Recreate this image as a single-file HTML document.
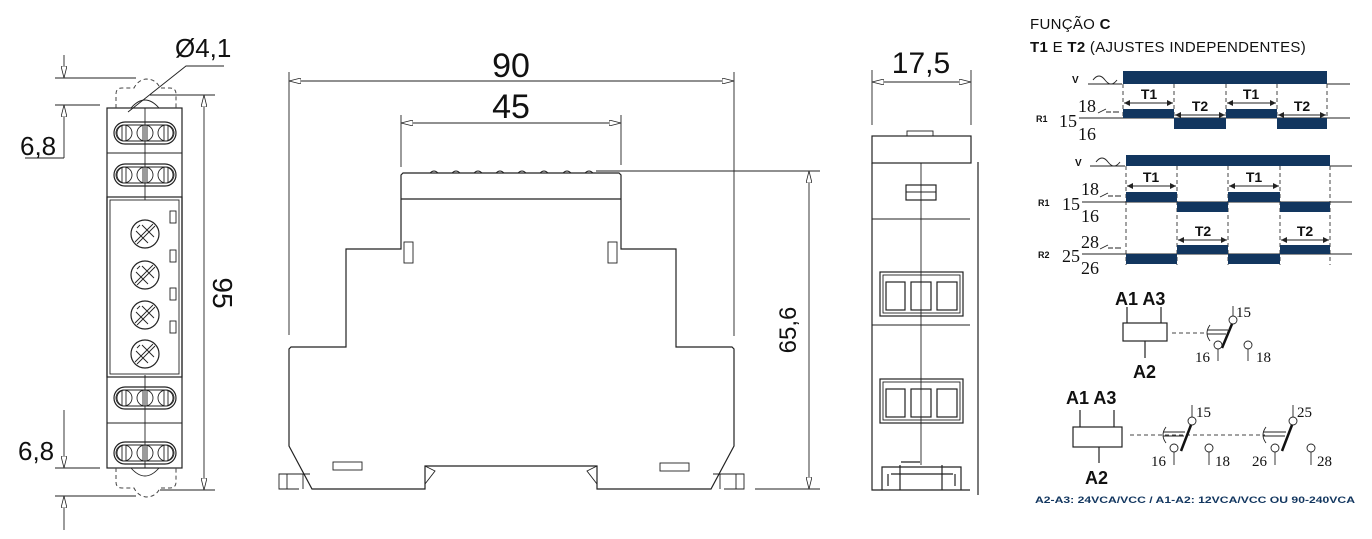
<!DOCTYPE html>
<html><head><meta charset="utf-8"><style>
html,body{margin:0;padding:0;background:#fff;}
svg{display:block}
.l{stroke:#222;stroke-width:1.2;fill:none}
.t{stroke:#222;stroke-width:0.9;fill:none}
.d{stroke:#444;stroke-width:1;fill:none;stroke-dasharray:4 3}
.n{fill:#12365f}
.dim{font-family:"Liberation Sans",sans-serif;fill:#111}
.s{font-family:"Liberation Serif",serif;fill:#111}
.b{font-family:"Liberation Sans",sans-serif;font-weight:bold;fill:#111}
</style></head><body>
<svg width="1372" height="539" viewBox="0 0 1372 539" xmlns="http://www.w3.org/2000/svg">
<defs>
<marker id="ar" viewBox="0 0 12 6" refX="12" refY="3" markerWidth="12" markerHeight="6" orient="auto-start-reverse" markerUnits="userSpaceOnUse"><path d="M0,0 L12,3 L0,6 z" fill="#fff" stroke="#222" stroke-width="0.8"/></marker>
<marker id="sa" viewBox="0 0 6 6" refX="6" refY="3" markerWidth="6" markerHeight="6" orient="auto-start-reverse" markerUnits="userSpaceOnUse"><path d="M0,0 L6,3 L0,6 z" fill="#222"/></marker>
<g id="pot"><circle r="14" class="l"/><path class="t" d="M-8,10 L10,-8 M-10,8 L8,-10 M-9,-3 L3,9 M-3,-9 L9,3 M-8,-6 l3,-3"/></g>
<g id="term"><rect x="-31" y="-11" width="62" height="22" rx="11" class="l"/><rect x="-28" y="-8" width="56" height="16" rx="8" class="t"/><circle cx="-21" r="8" class="t"/><circle r="8" class="t"/><circle cx="21" r="8" class="t"/><path class="t" d="M-23,-8v16M-19,-8v16M-2,-8v16M2,-8v16M19,-8v16M23,-8v16"/></g>
</defs>

<!-- LEFT VIEW -->
<rect x="107" y="108" width="75" height="360" class="l"/>
<line x1="145" y1="108" x2="145" y2="200" class="t"/>
<line x1="145" y1="375" x2="145" y2="468" class="t"/>
<line x1="107" y1="153" x2="182" y2="153" class="t"/>
<line x1="107" y1="423" x2="182" y2="423" class="t"/>
<rect x="107" y="197" width="75" height="180" class="l"/>
<rect x="110" y="200" width="69" height="174" class="t"/>
<use href="#term" x="145" y="133"/>
<use href="#term" x="145" y="175"/>
<use href="#term" x="145" y="398"/>
<use href="#term" x="145" y="453"/>
<use href="#pot" x="145" y="234"/>
<use href="#pot" x="145" y="275"/>
<use href="#pot" x="145" y="315"/>
<use href="#pot" x="145" y="354"/>
<rect x="170" y="211" width="6" height="12" class="t"/>
<rect x="170" y="250" width="6" height="12" class="t"/>
<rect x="170" y="288" width="6" height="12" class="t"/>
<rect x="170" y="321" width="6" height="12" class="t"/>
<path class="d" d="M116,108 v-14 q0,-6 6,-6 h12 q4,-8 12,-9 q10,0 14,9 h10 q6,0 6,6 v14"/>
<path class="d" d="M116,468 v14 q0,6 6,6 h12 q4,8 12,9 q10,0 14,-9 h10 q6,0 6,-6 v-14"/>
<path class="t" d="M131,108 q14,-16 28,0 M131,468 q14,16 28,0"/>
<line x1="55" y1="78" x2="136" y2="78" class="t"/>
<line x1="55" y1="105" x2="100" y2="105" class="t"/>
<line x1="64" y1="55" x2="64" y2="78" class="t" marker-end="url(#ar)"/>
<line x1="64" y1="158" x2="64" y2="105" class="t" marker-end="url(#ar)"/>
<line x1="25" y1="158" x2="64" y2="158" class="t"/>
<text x="20" y="155" class="dim" font-size="26">6,8</text>
<line x1="55" y1="468" x2="100" y2="468" class="t"/>
<line x1="55" y1="496" x2="136" y2="496" class="t"/>
<line x1="64" y1="410" x2="64" y2="468" class="t" marker-end="url(#ar)"/>
<line x1="64" y1="530" x2="64" y2="496" class="t" marker-end="url(#ar)"/>
<text x="18" y="460" class="dim" font-size="26">6,8</text>
<text x="175" y="57" class="dim" font-size="26">Ø4,1</text>
<path class="t" d="M224,66 H186 L128,112"/>
<line x1="150" y1="95" x2="215" y2="95" class="t"/>
<line x1="160" y1="490" x2="215" y2="490" class="t"/>
<line x1="204" y1="95" x2="204" y2="490" class="t" marker-start="url(#ar)" marker-end="url(#ar)"/>
<text transform="translate(213,293) rotate(90)" class="dim" font-size="28" text-anchor="middle">95</text>

<!-- MIDDLE VIEW -->
<line x1="289" y1="72" x2="289" y2="335" class="t"/>
<line x1="734" y1="72" x2="734" y2="336" class="t"/>
<line x1="289" y1="81" x2="734" y2="81" class="t" marker-start="url(#ar)" marker-end="url(#ar)"/>
<text x="511" y="77" class="dim" font-size="34" text-anchor="middle">90</text>
<line x1="401" y1="115" x2="401" y2="167" class="t"/>
<line x1="621" y1="115" x2="621" y2="165" class="t"/>
<line x1="401" y1="123" x2="621" y2="123" class="t" marker-start="url(#ar)" marker-end="url(#ar)"/>
<text x="511" y="118" class="dim" font-size="34" text-anchor="middle">45</text>
<path class="l" d="M401,175 L403,173 H619 L621,175 V249 H676 V347 H732 L734,349 V446 L711,489 H597 V466 H425 V489 H312 L289,446 V349 L291,347 H346 V249 H401 Z"/>
<line x1="401" y1="199" x2="621" y2="199" class="l"/>
<path class="t" d="M430,173 q4,-4 8,0 M452,173 q4,-4 8,0 M474,173 q4,-4 8,0 M496,173 q4,-4 8,0 M518,173 q4,-4 8,0 M540,173 q4,-4 8,0 M563,173 q4,-4 8,0 M585,173 q4,-4 8,0"/>
<rect x="404" y="242" width="9" height="21" class="t"/>
<rect x="608" y="242" width="9" height="21" class="t"/>
<rect x="333" y="462" width="29" height="8" class="t"/>
<rect x="660" y="463" width="29" height="8" class="t"/>
<path class="t" d="M425,466 l10,5 -10,13 M597,466 l-10,5 10,13"/>
<path class="t" d="M310,474 H279 V489 H299 M303,474 v15 M287,474 v15"/>
<path class="t" d="M713,474 H744 V489 H724 M720,474 v15 M736,474 v15"/>
<line x1="596" y1="171" x2="820" y2="171" class="t"/>
<line x1="755" y1="489" x2="820" y2="489" class="t"/>
<line x1="809" y1="171" x2="809" y2="489" class="t" marker-start="url(#ar)" marker-end="url(#ar)"/>
<text transform="translate(796,330) rotate(-90)" class="dim" font-size="24" text-anchor="middle">65,6</text>

<!-- RIGHT SIDE VIEW -->
<line x1="872" y1="70" x2="872" y2="125" class="t"/>
<line x1="971" y1="70" x2="971" y2="125" class="t"/>
<line x1="872" y1="82" x2="971" y2="82" class="t" marker-start="url(#ar)" marker-end="url(#ar)"/>
<text x="921" y="73" class="dim" font-size="30" text-anchor="middle">17,5</text>
<rect x="872" y="136" width="99" height="27" class="l"/>
<rect x="907" y="131" width="26" height="5" class="t"/>
<path class="l" d="M872,163 V490 H970 M978,162 V495"/>
<line x1="921" y1="163" x2="921" y2="465" class="t"/>
<rect x="906" y="185" width="30" height="15" class="l"/>
<line x1="906" y1="192" x2="936" y2="192" class="t"/>
<path class="t" d="M872,219 H970 M872,325 H970"/>
<rect x="880" y="272" width="83" height="44" class="l"/><rect x="883" y="275" width="77" height="38" class="t"/>
<rect x="886" y="282" width="19" height="28" class="l"/><rect x="911" y="282" width="20" height="28" class="l"/><rect x="937" y="282" width="20" height="28" class="l"/>
<rect x="880" y="379" width="83" height="44" class="l"/><rect x="883" y="382" width="77" height="38" class="t"/>
<rect x="886" y="389" width="19" height="28" class="l"/><rect x="911" y="389" width="20" height="28" class="l"/><rect x="937" y="389" width="20" height="28" class="l"/>
<path class="l" d="M882,490 V467 H961 V490 M900,465 V490 M942,465 V490 M891,474 H953 M888,474 v12 M955,474 v12 M901,462 H920"/>

<!-- TIMING -->
<text x="1030" y="29" class="dim" font-size="15" letter-spacing="0.3">FUNÇÃO <tspan font-weight="bold">C</tspan></text>
<text x="1030" y="52" class="dim" font-size="15" letter-spacing="0.3"><tspan font-weight="bold">T1</tspan> E <tspan font-weight="bold">T2</tspan> (AJUSTES INDEPENDENTES)</text>
<!-- diag 1 -->
<text x="1072" y="83" class="b" font-size="10">V</text>
<path class="t" d="M1088,84 H1122 M1093,80 q6,-8 12,0 q6,8 12,0 M1327,84 H1350"/>
<rect x="1123" y="71" width="204" height="13" class="n"/>
<path class="d" d="M1123,84 V118 M1174,84 V118 M1226,84 V118 M1277,84 V118 M1327,84 V118"/>
<g class="b" font-size="14" text-anchor="middle"><text x="1149" y="99">T1</text><text x="1251" y="99">T1</text><text x="1200" y="111">T2</text><text x="1302" y="111">T2</text></g>
<g class="t"><line x1="1124" y1="103" x2="1173" y2="103" marker-start="url(#sa)" marker-end="url(#sa)"/><line x1="1227" y1="103" x2="1276" y2="103" marker-start="url(#sa)" marker-end="url(#sa)"/><line x1="1175" y1="115" x2="1225" y2="115" marker-start="url(#sa)" marker-end="url(#sa)"/><line x1="1278" y1="115" x2="1326" y2="115" marker-start="url(#sa)" marker-end="url(#sa)"/></g>
<line x1="1079" y1="118" x2="1350" y2="118" class="t"/>
<rect x="1123" y="109" width="51" height="9" class="n"/><rect x="1226" y="109" width="51" height="9" class="n"/>
<rect x="1174" y="118" width="52" height="11" class="n"/><rect x="1277" y="118" width="50" height="11" class="n"/>
<text x="1036" y="122" class="b" font-size="9">R1</text>
<text x="1059" y="127" class="s" font-size="18">15</text>
<text x="1078" y="112" class="s" font-size="18">18</text>
<text x="1078" y="140" class="s" font-size="18">16</text>
<path class="t" d="M1098,113 l8,-4 M1106,112 h5 M1113,112 h6"/>
<!-- diag 2 -->
<text x="1075" y="166" class="b" font-size="10">V</text>
<path class="t" d="M1090,166 H1125 M1096,162 q6,-8 12,0 q6,8 12,0 M1330,166 H1352"/>
<rect x="1126" y="155" width="204" height="11" class="n"/>
<path class="d" d="M1126,166 V265 M1177,166 V265 M1228,166 V265 M1280,166 V265 M1330,166 V265"/>
<g class="b" font-size="14" text-anchor="middle"><text x="1151" y="182">T1</text><text x="1254" y="182">T1</text><text x="1203" y="236">T2</text><text x="1305" y="236">T2</text></g>
<g class="t"><line x1="1127" y1="186" x2="1176" y2="186" marker-start="url(#sa)" marker-end="url(#sa)"/><line x1="1229" y1="186" x2="1279" y2="186" marker-start="url(#sa)" marker-end="url(#sa)"/><line x1="1178" y1="240" x2="1227" y2="240" marker-start="url(#sa)" marker-end="url(#sa)"/><line x1="1281" y1="240" x2="1329" y2="240" marker-start="url(#sa)" marker-end="url(#sa)"/></g>
<line x1="1082" y1="202" x2="1352" y2="202" class="t"/>
<rect x="1126" y="192" width="51" height="10" class="n"/><rect x="1228" y="192" width="52" height="10" class="n"/>
<rect x="1177" y="202" width="51" height="10" class="n"/><rect x="1280" y="202" width="50" height="10" class="n"/>
<text x="1038" y="206" class="b" font-size="9">R1</text>
<text x="1062" y="210" class="s" font-size="18">15</text>
<text x="1081" y="195" class="s" font-size="18">18</text>
<text x="1081" y="222" class="s" font-size="18">16</text>
<path class="t" d="M1100,197 l8,-4 M1108,196 h5 M1115,196 h6"/>
<line x1="1082" y1="254" x2="1352" y2="254" class="t"/>
<rect x="1177" y="245" width="51" height="9" class="n"/><rect x="1280" y="245" width="50" height="9" class="n"/>
<rect x="1126" y="254" width="51" height="10" class="n"/><rect x="1228" y="254" width="52" height="10" class="n"/>
<text x="1038" y="258" class="b" font-size="9">R2</text>
<text x="1062" y="262" class="s" font-size="18">25</text>
<text x="1081" y="248" class="s" font-size="18">28</text>
<text x="1081" y="274" class="s" font-size="18">26</text>
<path class="t" d="M1100,249 l8,-4 M1108,248 h5 M1115,248 h6"/>

<!-- circuit 1 -->
<text x="1115" y="305" class="b" font-size="18">A1 A3</text>
<path class="l" d="M1127,307 V323 M1161,307 V323 M1145,341 V358"/>
<rect x="1123" y="323" width="44" height="18" class="l"/>
<text x="1133" y="378" class="b" font-size="18">A2</text>
<path class="d" d="M1172,333 H1205"/>
<path class="t" d="M1210,325 q-6,8 0,16 M1207,330 H1228 M1207,334 H1226"/>
<circle cx="1233" cy="320" r="4" class="t"/><line x1="1233" y1="306" x2="1233" y2="316" class="t"/>
<line x1="1232" y1="324" x2="1222" y2="348" stroke="#111" stroke-width="2.5"/>
<circle cx="1218" cy="345" r="4" class="t"/><line x1="1218" y1="349" x2="1218" y2="361" class="t"/>
<circle cx="1248" cy="345" r="4" class="t"/><line x1="1248" y1="349" x2="1248" y2="361" class="t"/>
<text x="1236" y="317" class="s" font-size="15">15</text>
<text x="1195" y="362" class="s" font-size="15">16</text>
<text x="1256" y="362" class="s" font-size="15">18</text>
<!-- circuit 2 -->
<text x="1066" y="404" class="b" font-size="18">A1 A3</text>
<path class="l" d="M1080,410 V427 M1114,410 V427 M1099,447 V463"/>
<rect x="1073" y="427" width="49" height="20" class="l"/>
<text x="1085" y="484" class="b" font-size="18">A2</text>
<path class="d" d="M1130,435 H1265"/>
<path class="t" d="M1166,427 q-6,8 0,16 M1163,432 H1185 M1163,436 H1184"/>
<circle cx="1192" cy="421" r="4" class="t"/><line x1="1192" y1="405" x2="1192" y2="417" class="t"/>
<line x1="1191" y1="425" x2="1181" y2="451" stroke="#111" stroke-width="2.5"/>
<circle cx="1174" cy="448" r="4" class="t"/><line x1="1174" y1="452" x2="1174" y2="465" class="t"/>
<circle cx="1209" cy="448" r="4" class="t"/><line x1="1209" y1="452" x2="1209" y2="465" class="t"/>
<text x="1196" y="417" class="s" font-size="15">15</text>
<text x="1151" y="466" class="s" font-size="15">16</text>
<text x="1215" y="466" class="s" font-size="15">18</text>
<path class="t" d="M1266,427 q-6,8 0,16 M1263,432 H1286 M1263,436 H1285"/>
<circle cx="1293" cy="421" r="4" class="t"/><line x1="1293" y1="405" x2="1293" y2="417" class="t"/>
<line x1="1292" y1="425" x2="1282" y2="451" stroke="#111" stroke-width="2.5"/>
<circle cx="1275" cy="448" r="4" class="t"/><line x1="1275" y1="452" x2="1275" y2="465" class="t"/>
<circle cx="1311" cy="448" r="4" class="t"/><line x1="1311" y1="452" x2="1311" y2="465" class="t"/>
<text x="1297" y="417" class="s" font-size="15">25</text>
<text x="1252" y="466" class="s" font-size="15">26</text>
<text x="1317" y="466" class="s" font-size="15">28</text>
<text x="1035" y="503" font-family="Liberation Sans, sans-serif" font-weight="bold" font-size="9.5" fill="#12365f" textLength="320" lengthAdjust="spacingAndGlyphs">A2-A3: 24VCA/VCC / A1-A2: 12VCA/VCC OU 90-240VCA</text>
</svg>
</body></html>
